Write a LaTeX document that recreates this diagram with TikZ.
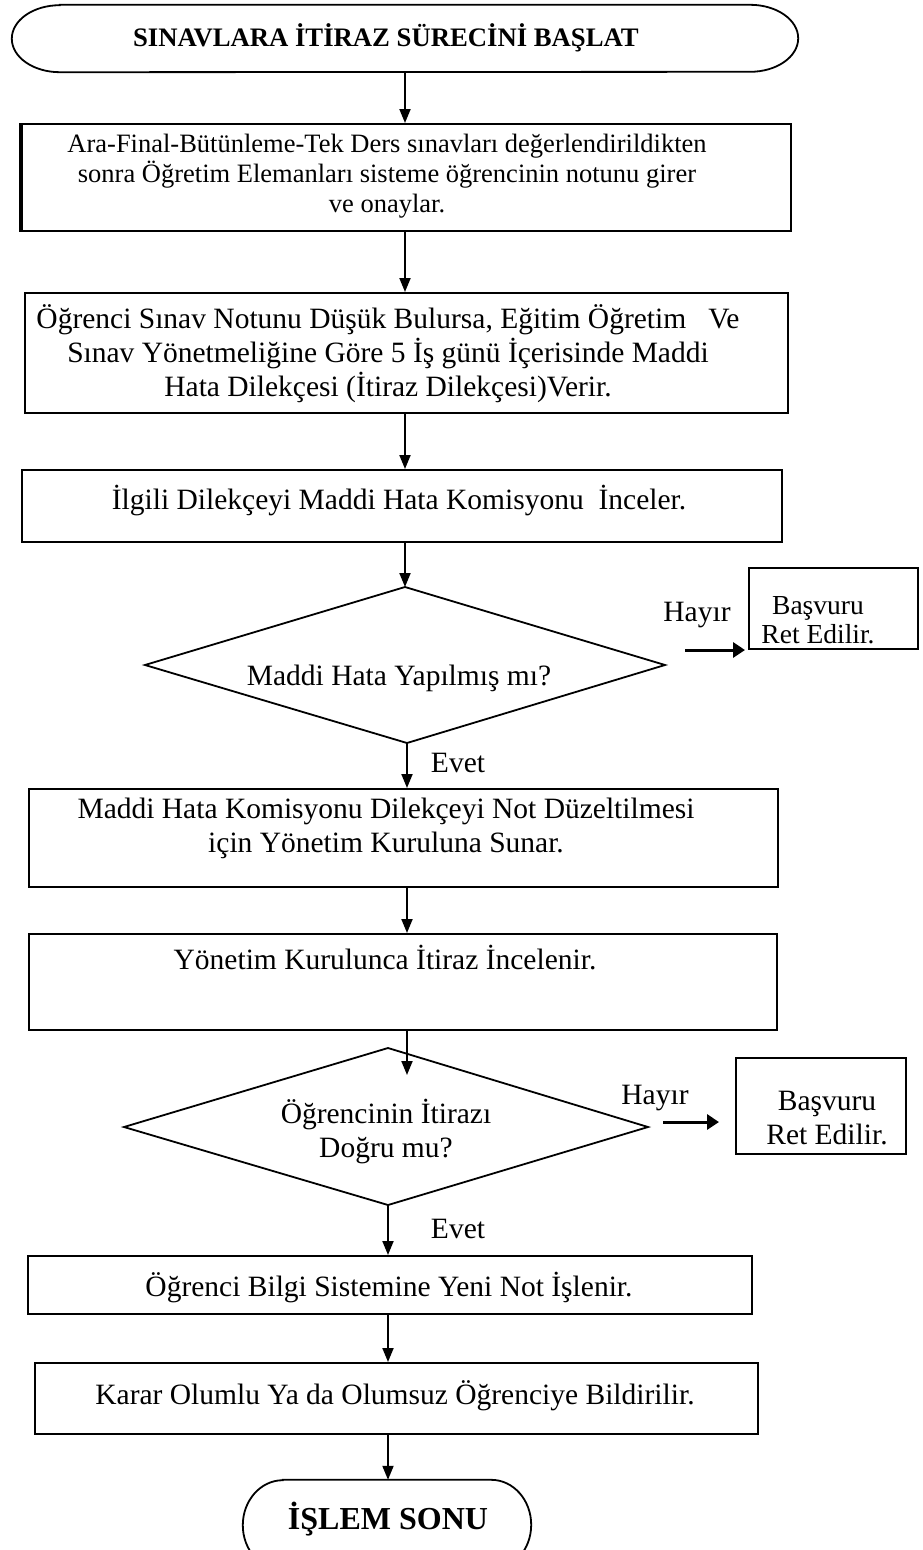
\documentclass[tikz,border=0pt]{standalone}
\usepackage{fontspec}
\setmainfont{Liberation Serif}
\usetikzlibrary{arrows.meta}
\begin{document}
\begin{tikzpicture}[x=1pt,y=-1pt,
  every node/.style={inner sep=0pt},
  box/.style={draw,line width=1.8pt,anchor=north west},
  txt/.style={font=\fontsize{29.5}{34}\selectfont,align=center},
  txta/.style={font=\fontsize{26.5}{30}\selectfont,align=center},
  txtr/.style={font=\fontsize{27.5}{29}\selectfont,align=center},
  btxt/.style={font=\fontsize{26.7}{30}\selectfont\bfseries,align=center},
  arr/.style={line width=1.9pt,-{Triangle[length=14pt,width=11pt]}},
  harr/.style={line width=3pt,-{Triangle[length=12pt,width=15pt]}},
  shp/.style={draw,line width=1.8pt}]
\useasboundingbox (0,0) rectangle (923,1550);

% start terminal
\node[minimum width=786pt,minimum height=67pt] (start) at (405,38.5) {};
\draw[shp] ([xshift=48pt]start.north west) -- ([xshift=-48pt]start.north east)
  arc[start angle=90,end angle=-90,x radius=48pt,y radius=33.5pt]
  -- ([xshift=48pt]start.south west)
  arc[start angle=270,end angle=90,x radius=48pt,y radius=33.5pt] -- cycle;
\node[btxt] (tstart) at (386,38) {SINAVLARA İTİRAZ SÜRECİNİ BAŞLAT};

% boxes
\node[box,minimum width=769pt,minimum height=107pt] (b1) at (21,123) {};
\draw[line width=3.2pt] (b1.north west) -- (b1.south west);
\node[txta] (t1) at (387,176) {Ara-Final-Bütünleme-Tek Ders sınavları değerlendirildikten\\sonra Öğretim Elemanları sisteme öğrencinin notunu girer\\ve onaylar.};

\node[box,minimum width=763pt,minimum height=120pt] (b2) at (24,292) {};
\node[txt] (t2) at (388,354) {Öğrenci Sınav Notunu Düşük Bulursa, Eğitim Öğretim\ \ \ Ve\\Sınav Yönetmeliğine Göre 5 İş günü İçerisinde Maddi\\Hata Dilekçesi (İtiraz Dilekçesi)Verir.};

\node[box,minimum width=760pt,minimum height=72pt] (b3) at (21,469) {};
\node[txt] (t3) at (399,501) {İlgili Dilekçeyi Maddi Hata Komisyonu\ \ İnceler.};

% decision 1
\coordinate (d1t) at (405,587);
\coordinate (d1r) at (665,665);
\coordinate (d1b) at (407,743);
\coordinate (d1l) at (145,665);
\draw[shp] (d1t) -- (d1r) -- (d1b) -- (d1l) -- cycle;
\node[txt] (td1) at (399,678) {Maddi Hata Yapılmış mı?};

\node[box,minimum width=169pt,minimum height=81pt] (r1) at (748,567) {};
\node[txtr] (tr1) at (818,620) {Başvuru\\Ret Edilir.};
\node[txt] (h1) at (697,615) {Hayır};
\coordinate (h1s) at (685,650);
\draw[harr] (h1s) -- ([xshift=-3pt]r1.west |- h1s);

\node[txt] (e1) at (458,763) {Evet};

\node[box,minimum width=749pt,minimum height=98pt] (b4) at (28,788) {};
\node[txt] (t4) at (386,828) {Maddi Hata Komisyonu Dilekçeyi Not Düzeltilmesi\\için Yönetim Kuruluna Sunar.};

\node[box,minimum width=748pt,minimum height=96pt] (b5) at (28,933) {};
\node[txt] (t5) at (385,958) {Yönetim Kurulunca İtiraz İncelenir.};

% decision 2
\coordinate (d2t) at (388,1048);
\coordinate (d2r) at (648,1127);
\coordinate (d2b) at (388,1205);
\coordinate (d2l) at (124,1127);
\draw[shp] (d2t) -- (d2r) -- (d2b) -- (d2l) -- cycle;
\node[txt] (td2) at (386,1131) {Öğrencinin İtirazı\\Doğru mu?};

\node[box,minimum width=170pt,minimum height=96pt] (r2) at (735,1057) {};
\node[txt] (tr2) at (827,1118) {Başvuru\\Ret Edilir.};
\node[txt] (h2) at (655,1098) {Hayır};
\coordinate (h2s) at (663,1122);
\draw[harr] (h2s) -- ([xshift=-16pt]r2.west |- h2s);

\node[txt] (e2) at (458,1229) {Evet};

\node[box,minimum width=724pt,minimum height=58pt] (b6) at (27,1255) {};
\node[txt] (t6) at (389,1287) {Öğrenci Bilgi Sistemine Yeni Not İşlenir.};

\node[box,minimum width=723pt,minimum height=71pt] (b7) at (34,1362) {};
\node[txt] (t7) at (395,1396) {Karar Olumlu Ya da Olumsuz Öğrenciye Bildirilir.};

% end terminal
\node[minimum width=288pt,minimum height=90pt] (end) at (387,1525) {};
\draw[shp] ([xshift=40pt]end.north west) -- ([xshift=-40pt]end.north east)
  arc[start angle=90,end angle=-90,x radius=40pt,y radius=45pt]
  -- ([xshift=40pt]end.south west)
  arc[start angle=270,end angle=90,x radius=40pt,y radius=45pt] -- cycle;
\node[font=\fontsize{32}{36}\selectfont\bfseries] (tend) at (388,1519) {İŞLEM SONU};

% connectors
\coordinate (ax) at (405,0);
\coordinate (bx) at (388,0);
\draw[arr] (start.south) -- (start.south |- b1.north);
\draw[arr] (ax |- b1.south) -- (ax |- b2.north);
\draw[arr] (ax |- b2.south) -- (ax |- b3.north);
\draw[arr] (ax |- b3.south) -- (d1t);
\draw[arr] (d1b) -- (d1b |- b4.north);
\draw[arr] (d1b |- b4.south) -- (d1b |- b5.north);
\coordinate (d2in) at (407,1075);
\draw[arr] (d2in |- b5.south) -- (d2in);
\draw[arr] (d2b) -- (bx |- b6.north);
\draw[arr] (bx |- b6.south) -- (bx |- b7.north);
\draw[arr] (bx |- b7.south) -- (bx |- end.north);
\end{tikzpicture}
\end{document}
